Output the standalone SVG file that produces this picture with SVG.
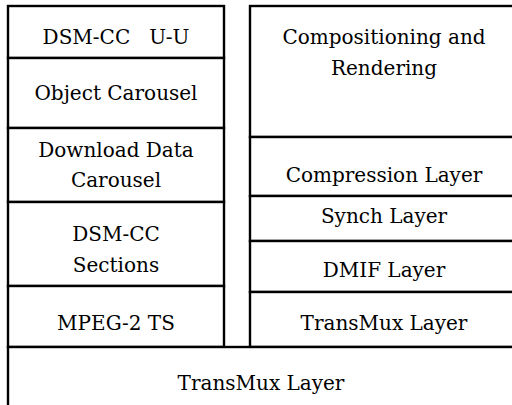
<svg xmlns="http://www.w3.org/2000/svg" width="512" height="405" viewBox="0 0 512 405">
<style>
rect{fill:#fff;stroke:#000;stroke-width:2.4}
text{font-family:"DejaVu Serif","Liberation Serif",serif;font-size:20px;fill:#000;text-anchor:middle;white-space:pre}
</style>
<rect x="0" y="0" width="512" height="405" style="stroke:none"/>
<g id="dsmcc-uu"><rect x="8" y="6" width="216" height="52"/><text x="116" y="44" xml:space="preserve">DSM-CC   U-U</text></g>
<g id="object-carousel"><rect x="8" y="58" width="216" height="70"/><text x="116" y="100">Object Carousel</text></g>
<g id="download-data-carousel"><rect x="8" y="128" width="216" height="74"/><text x="116" y="157">Download Data</text><text x="116" y="187">Carousel</text></g>
<g id="dsmcc-sections"><rect x="8" y="202" width="216" height="84"/><text x="116" y="241">DSM-CC</text><text x="116" y="272">Sections</text></g>
<g id="mpeg2-ts"><rect x="8" y="286" width="216" height="61"/><text x="116" y="330">MPEG-2 TS</text></g>
<g id="compositioning"><rect x="250" y="6" width="266" height="131"/><text x="384" y="44">Compositioning and</text><text x="384" y="75">Rendering</text></g>
<g id="compression"><rect x="250" y="137" width="266" height="59"/><text x="384" y="182">Compression Layer</text></g>
<g id="synch"><rect x="250" y="196" width="266" height="45"/><text x="384" y="223">Synch Layer</text></g>
<g id="dmif"><rect x="250" y="241" width="266" height="51"/><text x="384" y="277">DMIF Layer</text></g>
<g id="transmux-right"><rect x="250" y="292" width="266" height="55"/><text x="384" y="330">TransMux Layer</text></g>
<g id="transmux-bottom"><rect x="8" y="347" width="510" height="64"/><text x="261" y="390">TransMux Layer</text></g>
<g id="connectors"></g>
</svg>
